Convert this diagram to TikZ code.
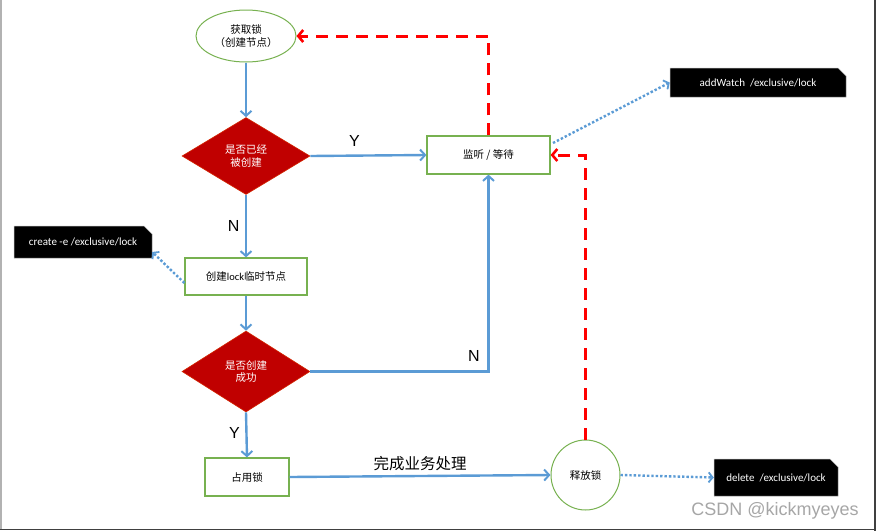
\documentclass[tikz,border=0pt]{standalone}
\usepackage{fontspec}
\setmainfont{Liberation Sans}
\newfontfamily\cjk{Noto Sans CJK SC}
\newfontfamily\carlitofont{Carlito}
\usetikzlibrary{arrows.meta,shapes.geometric,shapes.misc}
\definecolor{lgreen}{HTML}{77B150}
\definecolor{flowblue}{HTML}{5B9BD5}
\definecolor{dred}{HTML}{C00000}
\tikzset{
  every node/.style={font=\cjk\fontsize{10.5}{12.5}\selectfont},
  gbox/.style={draw=lgreen, line width=1.2pt, rectangle, inner sep=0pt},
  gell/.style={draw=lgreen, line width=1pt, ellipse, inner sep=0pt},
  dec/.style={diamond, fill=dred, draw=dred!70!orange, line width=0.6pt, inner sep=0pt, text=white, align=center},
  callout/.style={chamfered rectangle, chamfered rectangle corners=north east, chamfered rectangle xsep=4pt, chamfered rectangle ysep=4pt, fill=black, draw=gray!60, line width=0.5pt, text=white, inner sep=0pt, font=\carlitofont\fontsize{11}{13}\selectfont},
  flow/.style={draw=flowblue, line width=2.4pt, -{Straight Barb[length=5pt,width=11pt,line width=2pt]}},
  dots/.style={draw=flowblue, line width=2.4pt, dotted, -{Straight Barb[length=4pt,width=10pt,line width=1.8pt]}},
  reddash/.style={draw=red, line width=3pt, dash pattern=on 12pt off 8pt, -{Straight Barb[length=5pt,width=12pt,line width=2.6pt]}},
  lbl/.style={font=\fontsize{16}{18}\selectfont},
}
\begin{document}
\begin{tikzpicture}[x=1pt,y=-1pt]
\useasboundingbox (0,0) rectangle (876,531);
\draw[gray!60, line width=1.5pt] (0.75,0) -- (0.75,529);
\draw[black!75, line width=1.5pt] (0,529.5) -- (876,529.5);
\draw[black!75, line width=1.5pt] (875,0) -- (875,531);

\node[gell, minimum width=100pt, minimum height=52pt, align=center] (get) at (246,36) {获取锁\\（创建节点）};
\node[dec, minimum width=128pt, minimum height=77pt] (d1) at (246,156) {是否已经\\被创建};
\node[gbox, minimum width=123pt, minimum height=38pt] (watch) at (488.5,155) {监听 / 等待};
\node[gbox, minimum width=122pt, minimum height=37pt] (create) at (246,276.5) {创建{\carlitofont lock}临时节点};
\node[dec, minimum width=128pt, minimum height=81pt] (d2) at (246,371.5) {是否创建\\成功};
\node[gbox, minimum width=84pt, minimum height=38pt] (hold) at (247,477) {占用锁};
\node[gell, minimum width=69pt, minimum height=70pt] (rel) at (585.5,475) {释放锁};

\node[callout, minimum width=138pt, minimum height=32pt] (c1) at (83,242) {create -e /exclusive/lock};
\node[callout, minimum width=176pt, minimum height=29pt] (c2) at (758,82.5) {addWatch\ \ /exclusive/lock};
\node[callout, minimum width=124pt, minimum height=37pt] (c3) at (776,477.5) {delete\ \ /exclusive/lock};

\draw[flow] (get) -- (d1.north);
\draw[flow] (d1.east) -- (watch.west) node[pos=0.38, above=5pt, lbl, text=black] (ly) {Y};
\draw[flow] (d1.south) -- (create.north) node[pos=0.5, left=2pt, lbl] (ln) {N};
\draw[flow] (create.south) -- (d2.north);
\coordinate (nc) at (watch.south |- d2.east);
\draw[flow] (d2.east) -- (nc) -- (watch.south);
\node[lbl] (ln2) at (474,356) {N};
\draw[flow] (d2.south) -- (hold.north) node[pos=0.45, left=2pt, lbl] (ly2) {Y};
\draw[flow] (hold.east) -- (rel.west);
\node[font=\cjk\fontsize{15.5}{18}\selectfont] (work) at (420,464) {完成业务处理};

\coordinate (r1) at (rel.north |- watch.east);
\draw[reddash] (rel.north) -- (r1) -- (watch.east);
\coordinate (r2) at (watch.north |- get.east);
\draw[reddash] (watch.north) -- (r2) -- (get.east);

\draw[dots] (create.west |- 0,283) -- (c1.east |- 0,252);
\coordinate (wa) at (553,143);
\draw[dots] (wa) -- (c2.west);
\draw[dots] (rel.east) -- (c3.west);

\node[text=gray!70, font=\fontsize{18}{20}\selectfont] (wm) at (775,511) {CSDN @kickmyeyes};
\end{tikzpicture}
\end{document}
